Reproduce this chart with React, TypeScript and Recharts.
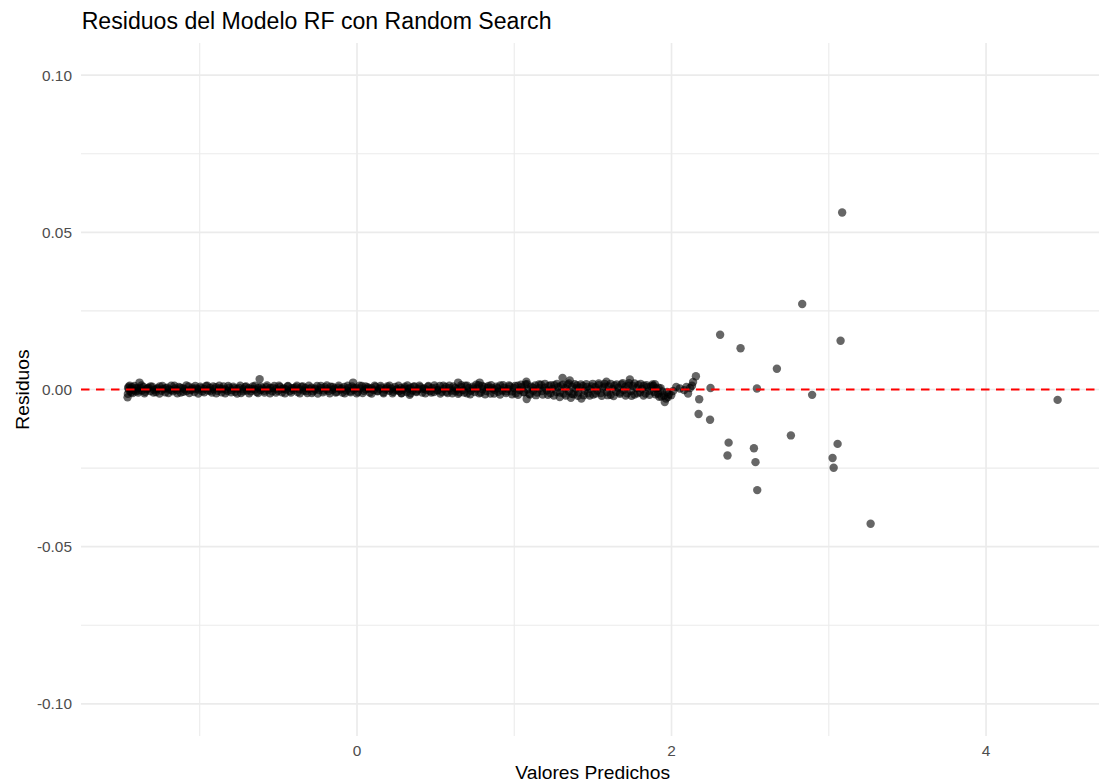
import React from 'react';
import { ScatterChart, Scatter, XAxis, YAxis, CartesianGrid } from 'recharts';

const TITLE = 'Residuos del Modelo RF con Random Search';
const X_LABEL = 'Valores Predichos';
const Y_LABEL = 'Residuos';

const xMajorTicks = [0, 2, 4];
const xMinorTicks = [-1, 1, 3];
const yMajorTicks = [-0.1, -0.05, 0, 0.05, 0.1];
const yMinorTicks = [-0.075, -0.025, 0.025, 0.075];
const xDomain = [-1.755, 4.75];
const yDomain = [-0.1102, 0.1102];

// horizontal reference at residual 0, spanning the whole x domain
const zeroLine = [
  { x: -1.755, y: 0 },
  { x: 4.75, y: 0 },
];

// dense band of small residuals: [predicted, residual]
const bandLeft: [number, number][] = [
  [-1.459,-0.0025],[-1.457,-0.0014],[-1.455,0.0004],[-1.452,0.0009],[-1.447,-0.0004],[-1.441,0.0002],[-1.436,-0.0009],[-1.429,0.0007],[-1.421,-0.0002],[-1.415,0.0011],[-1.407,-0.0006],[-1.398,0.0003],[-1.391,-0.0010],[-1.383,0.0022],[-1.377,0.0005],[-1.369,-0.0003],[-1.358,0.0008],[-1.347,-0.0007],[-1.338,0.0001],[-1.326,0.0006],[-1.315,-0.0005],[-1.302,0.0009],[-1.291,-0.0001],[-1.279,-0.0008],[-1.268,0.0004],[-1.255,0.0010],[-1.243,-0.0004],[-1.231,0.0002],[-1.219,-0.0009],[-1.207,0.0006],[-1.194,0.0000],[-1.181,0.0012],[-1.170,-0.0006],[-1.158,0.0003],[-1.145,-0.0002],[-1.133,0.0008],[-1.121,-0.0010],[-1.108,0.0004],[-1.096,0.0001],[-1.084,-0.0005],[-1.071,0.0010],[-1.059,-0.0002],[-1.047,0.0006],[-1.034,-0.0008],[-1.022,0.0003],[-1.010,0.0000],
  [-0.997,0.0009],[-0.985,-0.0006],[-0.972,0.0002],[-0.960,0.0011],[-0.948,-0.0003],[-0.935,0.0005],[-0.923,-0.0010],[-0.911,0.0001],[-0.898,0.0007],[-0.886,-0.0004],[-0.873,0.0003],[-0.861,-0.0009],[-0.849,0.0010],[-0.836,0.0000],[-0.824,-0.0005],[-0.811,0.0006],[-0.799,-0.0002],[-0.787,0.0009],[-0.774,-0.0007],[-0.762,0.0002],[-0.749,0.0005],[-0.737,-0.0011],[-0.725,0.0001],[-0.712,0.0008],[-0.700,-0.0003],[-0.688,0.0004],[-0.675,-0.0006],[-0.663,0.0010],[-0.650,0.0000],[-0.638,-0.0008],[-0.626,0.0006],[-0.619,0.0033],[-0.613,-0.0002],[-0.601,0.0003],[-0.588,-0.0010],[-0.576,0.0007],[-0.564,-0.0001],[-0.551,0.0005],[-0.539,-0.0006],[-0.526,0.0011],[-0.514,0.0002],
];

const bandMiddle: [number, number][] = [
  [-0.502,-0.0004],[-0.489,0.0008],[-0.477,-0.0009],[-0.465,0.0003],[-0.452,0.0000],[-0.440,0.0010],[-0.427,-0.0005],[-0.415,0.0004],[-0.403,-0.0002],[-0.390,0.0007],[-0.378,-0.0008],[-0.365,0.0001],[-0.353,0.0009],[-0.341,-0.0003],[-0.328,0.0005],[-0.316,-0.0011],[-0.304,0.0002],[-0.291,0.0006],[-0.279,-0.0006],[-0.266,0.0000],[-0.254,0.0011],[-0.242,-0.0002],[-0.229,0.0004],[-0.217,-0.0009],[-0.204,0.0007],[-0.192,0.0001],[-0.180,-0.0005],[-0.167,0.0009],[-0.155,-0.0001],[-0.143,0.0003],[-0.130,-0.0007],[-0.118,0.0006],[-0.105,0.0000],[-0.093,-0.0010],[-0.081,0.0008],[-0.068,-0.0003],[-0.056,0.0004],[-0.044,-0.0006],[-0.031,0.0010],[-0.025,0.0022],[-0.019,-0.0001],[-0.006,0.0005],
  [0.006,-0.0008],[0.019,0.0003],[0.031,0.0011],[0.044,-0.0004],[0.056,0.0001],[0.068,0.0007],[0.081,-0.0010],[0.093,0.0004],[0.106,-0.0002],[0.118,0.0009],[0.130,-0.0006],[0.143,0.0002],[0.155,0.0006],[0.168,-0.0009],[0.180,0.0000],[0.192,0.0010],[0.205,-0.0004],[0.217,0.0003],[0.230,-0.0007],[0.242,0.0008],[0.254,0.0001],[0.267,-0.0005],[0.279,0.0005],[0.282,-0.0012],[0.291,-0.0001],[0.304,0.0009],[0.316,-0.0008],[0.329,0.0002],[0.335,-0.0017],[0.341,0.0006],[0.353,-0.0003],[0.366,0.0010],[0.378,-0.0006],[0.390,0.0001],[0.403,0.0007],[0.415,-0.0010],[0.428,0.0003],[0.440,-0.0001],[0.452,0.0009],[0.465,-0.0005],[0.477,0.0004],[0.489,-0.0008],
  [0.502,0.0006],[0.514,-0.0002],[0.527,0.0011],[0.539,-0.0007],[0.551,0.0002],[0.564,0.0008],[0.576,-0.0011],[0.588,0.0004],[0.601,-0.0003],[0.613,0.0010],[0.626,-0.0006],[0.638,0.0001],[0.643,0.0022],[0.650,-0.0009],[0.663,0.0007],[0.675,-0.0002],[0.688,0.0012],[0.700,-0.0012],[0.712,0.0005],[0.725,-0.0004],[0.737,0.0009],[0.749,-0.0008],[0.762,0.0003],[0.774,0.0014],[0.780,0.0022],[0.787,-0.0010],[0.799,0.0001],[0.811,0.0008],[0.824,-0.0005],[0.836,0.0011],[0.849,-0.0013],[0.861,0.0004],[0.873,-0.0001],[0.886,0.0009],[0.898,-0.0007],[0.911,0.0013],[0.923,-0.0003],[0.935,0.0006],[0.948,-0.0011],[0.960,0.0002],[0.972,0.0010],[0.985,-0.0006],
];

const bandRight: [number, number][] = [
  [0.997,0.0005],[1.010,-0.0012],[1.022,0.0012],[1.034,-0.0002],[1.047,0.0007],[1.059,-0.0009],[1.071,0.0016],[1.077,0.0025],[1.079,-0.0030],[1.084,0.0001],[1.096,-0.0014],[1.108,0.0009],[1.121,-0.0004],[1.133,0.0013],[1.145,-0.0010],[1.158,0.0004],[1.170,0.0015],[1.181,-0.0016],[1.194,0.0006],[1.207,-0.0003],[1.219,0.0011],[1.231,-0.0012],[1.243,0.0002],[1.255,0.0014],[1.268,-0.0008],[1.279,0.0007],[1.289,-0.0024],[1.297,0.0012],[1.307,0.0037],[1.315,-0.0013],[1.326,0.0004],[1.338,0.0016],[1.347,-0.0006],[1.353,0.0029],[1.360,-0.0026],[1.369,0.0009],[1.377,-0.0015],[1.391,0.0003],[1.398,0.0013],[1.407,-0.0010],[1.415,0.0006],[1.427,-0.0029],[1.436,0.0011],[1.447,-0.0004],[1.458,0.0017],[1.469,-0.0012],[1.481,0.0002],[1.492,0.0010],
  [1.503,-0.0016],[1.515,0.0007],[1.527,-0.0003],[1.538,0.0014],[1.550,-0.0011],[1.562,0.0004],[1.574,0.0018],[1.586,0.0025],[1.590,-0.0008],[1.601,0.0010],[1.613,-0.0017],[1.625,0.0002],[1.637,0.0013],[1.648,-0.0007],[1.660,0.0006],[1.672,-0.0014],[1.683,0.0016],[1.695,-0.0002],[1.707,0.0009],[1.718,-0.0012],[1.730,0.0020],[1.735,0.0032],[1.742,-0.0005],[1.754,0.0011],[1.765,-0.0016],[1.777,0.0005],[1.789,0.0014],[1.800,-0.0009],[1.812,0.0002],[1.824,0.0012],[1.835,-0.0013],[1.847,0.0007],[1.859,-0.0004],[1.871,0.0010],[1.883,0.0011],[1.889,-0.0008],[1.894,0.0017],[1.903,0.0003],[1.915,-0.0013],[1.922,-0.0023],[1.931,0.0004],[1.940,-0.0006],
  [1.952,-0.0019],[1.957,-0.0040],[1.965,-0.0029],[1.978,-0.0024],[1.972,-0.0008],[1.983,-0.0015],[1.998,-0.0018],[2.010,-0.0005],[2.030,0.0008],[2.053,0.0003],[2.080,-0.0002],[2.095,0.0008],[2.105,-0.0013],[2.118,0.0005],[2.130,0.0012],[2.137,0.0024],
];

// second layer of the dense band (it is heavily overplotted)
const bandExtra: [number, number][] = [
  [-1.445,0.0012],[-1.426,-0.0011],[-1.408,0.0004],[-1.389,-0.0003],[-1.370,0.0013],[-1.351,-0.0012],[-1.332,0.0003],[-1.313,0.0010],[-1.294,-0.0010],[-1.275,0.0001],[-1.256,-0.0013],[-1.237,0.0011],[-1.218,0.0004],[-1.199,-0.0011],[-1.180,-0.0002],[-1.161,0.0012],[-1.142,-0.0012],[-1.123,0.0006],[-1.104,-0.0007],[-1.085,0.0013],[-1.066,-0.0011],[-1.047,0.0001],[-1.028,0.0011],[-1.009,-0.0013],[-0.990,0.0004],[-0.971,-0.0009],[-0.952,0.0012],[-0.933,-0.0004],[-0.914,0.0010],[-0.895,-0.0012],[-0.876,0.0012],[-0.857,0.0002],[-0.838,-0.0012],[-0.819,0.0011],[-0.800,-0.0009],[-0.781,0.0004],[-0.762,-0.0013],[-0.743,0.0012],[-0.724,-0.0006],[-0.705,0.0010],[-0.686,-0.0012],[-0.667,0.0002],[-0.648,0.0012],[-0.629,-0.0011],[-0.610,0.0009],[-0.591,-0.0004],[-0.572,0.0013],[-0.553,-0.0012],[-0.534,0.0005],[-0.515,-0.0010],
  [-0.496,0.0012],[-0.477,0.0002],[-0.458,-0.0012],[-0.439,0.0011],[-0.420,-0.0010],[-0.401,0.0004],[-0.382,0.0012],[-0.363,-0.0012],[-0.344,0.0010],[-0.325,-0.0005],[-0.306,0.0012],[-0.287,-0.0011],[-0.268,0.0003],[-0.249,-0.0013],[-0.230,0.0011],[-0.211,-0.0003],[-0.192,0.0013],[-0.173,-0.0012],[-0.154,0.0008],[-0.135,-0.0010],[-0.116,0.0012],[-0.097,0.0003],[-0.078,-0.0012],[-0.059,0.0012],[-0.040,-0.0009],[-0.021,0.0005],[-0.002,-0.0012],[0.017,0.0012],[0.036,-0.0011],[0.055,0.0010],[0.074,0.0003],[0.093,-0.0013],[0.112,0.0012],[0.131,-0.0004],[0.150,0.0011],[0.169,-0.0012],[0.188,0.0004],[0.207,0.0012],[0.226,-0.0012],[0.245,-0.0002],[0.264,0.0012],[0.283,-0.0011],[0.302,0.0003],[0.321,0.0013],[0.340,-0.0012],[0.359,0.0009],[0.378,-0.0008],[0.397,0.0012],[0.416,0.0002],[0.435,-0.0012],[0.454,0.0011],[0.473,-0.0010],[0.492,0.0013],
  [0.511,-0.0003],[0.530,-0.0013],[0.549,0.0012],[0.568,-0.0007],[0.587,0.0012],[0.606,-0.0012],[0.625,0.0005],[0.644,-0.0014],[0.663,0.0014],[0.682,-0.0010],[0.701,0.0012],[0.720,-0.0015],[0.739,0.0003],[0.758,0.0015],[0.777,-0.0012],[0.796,0.0011],[0.815,-0.0015],[0.834,0.0006],[0.853,0.0014],[0.872,-0.0013],[0.891,0.0004],[0.910,-0.0016],[0.929,0.0014],[0.948,-0.0006],[0.967,0.0013],[0.986,-0.0015],[1.005,0.0011],[1.024,-0.0017],[1.043,0.0015],[1.062,-0.0008],[1.081,0.0017],[1.100,-0.0016],[1.119,0.0006],[1.138,-0.0018],[1.157,0.0016],[1.176,-0.0005],[1.195,0.0018],[1.214,-0.0017],[1.233,0.0014],[1.252,-0.0019],[1.271,0.0018],[1.290,-0.0010],[1.309,0.0015],[1.328,-0.0019],[1.347,0.0019],[1.366,-0.0014],[1.385,0.0017],[1.404,-0.0020],[1.423,0.0016],[1.442,-0.0018],[1.461,0.0008],[1.480,-0.0019],
  [1.499,0.0018],[1.518,-0.0013],[1.537,0.0019],[1.556,-0.0020],[1.575,0.0009],[1.594,-0.0018],[1.613,0.0018],[1.632,-0.0021],[1.651,0.0016],[1.670,-0.0010],[1.689,0.0020],[1.708,-0.0019],[1.727,0.0012],[1.746,-0.0020],[1.765,0.0019],[1.784,-0.0012],[1.803,0.0018],[1.822,-0.0019],[1.841,0.0014],[1.860,-0.0017],[1.879,0.0016],[1.898,-0.0015],[1.917,0.0006],[1.936,-0.0022],
];

// sparse large-prediction points
const sparsePoints: [number, number][] = [
  [2.155,0.0042],[2.176,-0.0031],[2.172,-0.0078],[2.245,-0.0096],[2.248,0.0005],[2.309,0.0174],[2.356,-0.0210],[2.363,-0.0169],[2.439,0.0131],[2.524,-0.0187],[2.534,-0.0231],[2.543,0.0003],[2.545,-0.0320],[2.670,0.0066],[2.759,-0.0146],[2.831,0.0272],[2.894,-0.0017],[3.024,-0.0218],[3.031,-0.0249],[3.056,-0.0173],[3.075,0.0155],[3.085,0.0563],[3.266,-0.0427],[4.455,-0.0033],
];

const points = [...bandLeft, ...bandMiddle, ...bandRight, ...bandExtra, ...sparsePoints].map(([x, y]) => ({ x, y }));

const FONT = '"Liberation Sans", Arial, Helvetica, sans-serif';

const Dot = (props: any) => (
  <circle cx={props.cx} cy={props.cy} r={4.2} fill="#000" fillOpacity={0.6} />
);

const NoDot = () => <g />;

export default function App() {
  return (
    <div style={{ position: 'absolute', left: 0, top: 0, width: 1099, height: 783, overflow: 'hidden', background: '#fff', fontFamily: FONT }}>
      <ScatterChart width={1110} height={783} margin={{ top: 43, right: 6, bottom: 17, left: 0 }}>
        <CartesianGrid horizontal={true} vertical={true} horizontalValues={yMinorTicks} verticalValues={xMinorTicks} stroke="#EBEBEB" strokeWidth={1.1} />
        <CartesianGrid horizontal={true} vertical={true} horizontalValues={yMajorTicks} verticalValues={xMajorTicks} stroke="#EBEBEB" strokeWidth={1.7} />
        <XAxis
          type="number"
          dataKey="x"
          domain={xDomain}
          allowDataOverflow
          ticks={xMajorTicks}
          height={30}
          axisLine={false}
          tickLine={false}
          tickMargin={3}
          tick={{ fontSize: 15.4, fill: '#4D4D4D', fontFamily: FONT }}
        />
        <YAxis
          type="number"
          dataKey="y"
          domain={yDomain}
          allowDataOverflow
          ticks={yMajorTicks}
          width={81}
          axisLine={false}
          tickLine={false}
          tickMargin={3}
          tickFormatter={(v: number) => v.toFixed(2)}
          tick={{ fontSize: 15.4, fill: '#4D4D4D', fontFamily: FONT }}
        />
        <Scatter data={points} shape={Dot} isAnimationActive={false} />
        <Scatter
          data={zeroLine}
          shape={NoDot}
          line={{ stroke: '#FF0000', strokeWidth: 2, strokeDasharray: '8.5 6.5' }}
          isAnimationActive={false}
        />
      </ScatterChart>
      <svg width={1099} height={783} style={{ position: 'absolute', left: 0, top: 0, pointerEvents: 'none' }}>
        <text x={81.7} y={29.3} fontSize={23.1} fill="#000" fontFamily={FONT}>{TITLE}</text>
        <text x={592.7} y={779} fontSize={19.25} fill="#000" fontFamily={FONT} textAnchor="middle">{X_LABEL}</text>
        <text x={29.3} y={389.5} fontSize={19.25} fill="#000" fontFamily={FONT} textAnchor="middle" transform="rotate(-90, 29.3, 389.5)">{Y_LABEL}</text>
      </svg>
    </div>
  );
}
